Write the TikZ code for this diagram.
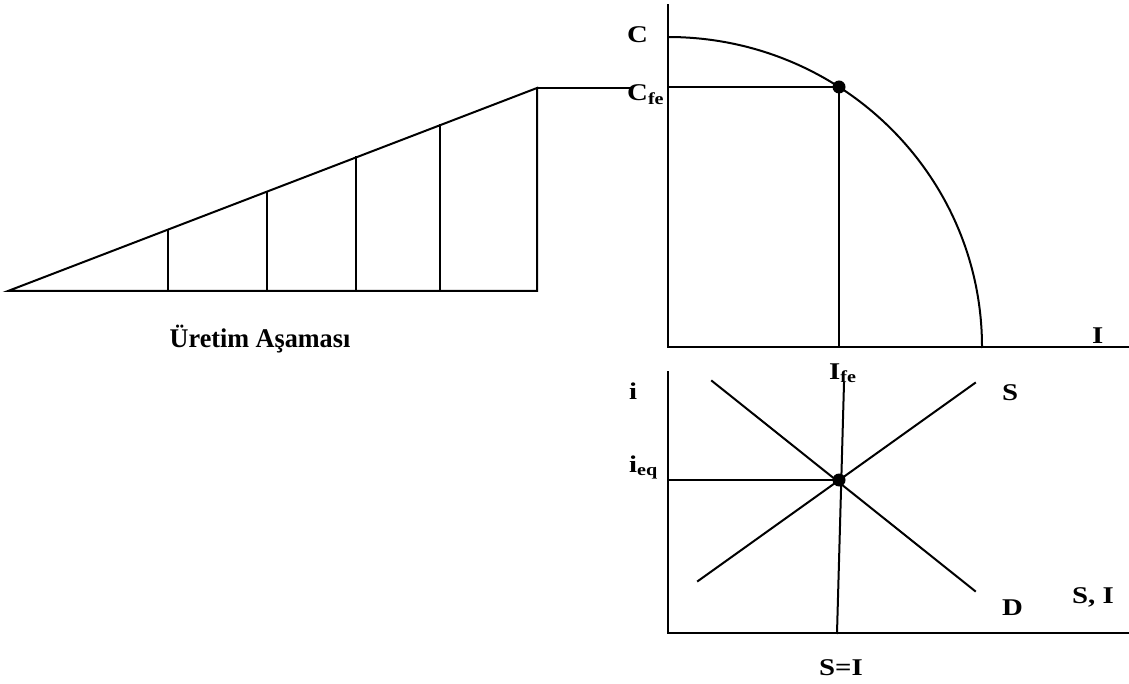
\documentclass[tikz,border=0pt]{standalone}
\usepackage{fontspec}
\setmainfont{Liberation Serif}
\newcommand{\hwide}[1]{\scalebox{1.2}[1]{#1}}
\newcommand{\hnarrow}[1]{\scalebox{0.97}[1]{#1}}
\begin{document}
\begin{tikzpicture}[x=1pt,y=-1pt,
  ln/.style={line width=2pt, line cap=rect},
  lbl/.style={inner sep=0pt, anchor=base west, font=\fontsize{24}{28}\selectfont\bfseries},
  lblc/.style={inner sep=0pt, anchor=base, font=\fontsize{27}{32}\selectfont\bfseries},
  dot/.style={circle, fill=black, inner sep=0pt, minimum size=13pt}]
\useasboundingbox (0,0) rectangle (1129,684);
% left panel
\coordinate (L0) at (8,291);
\coordinate (LT) at (537,88);
\coordinate (LB) at (537,291);
\draw[ln] (L0) -- (LB) -- (LT) -- cycle;
\foreach \x/\y in {168/229.6,267/191.6,356/157.5,440/125.2}{
  \draw[ln] (\x,291) -- (\x,\y);
}
\coordinate (Lend) at (630,88);
\draw[ln] (LT) -- (Lend);
\node[lblc] (stage) at (260,347) {\hnarrow{Üretim Aşaması}};
% top panel
\coordinate (Ctop) at (668,5);
\coordinate (O1) at (668,347);
\coordinate (Iend) at (1129,347);
\draw[ln] (Ctop) -- (O1) -- (Iend);
\draw[ln] (668,37) arc[start angle=270, end angle=360, x radius=314, y radius=310];
\node[dot] (fe) at (839,87) {};
\draw[ln] (668,87) -- (fe.center) -- (839,347);
\node[lbl] (C) at (627,43) {\hwide{C}};
\node[lbl] (Cfe) at (627,101) {\hwide{C\textsubscript{fe}}};
\node[lbl] (I) at (1092,343) {\hwide{I}};
\node[lbl] (Ife) at (829,379) {\hwide{I\textsubscript{fe}}};
% bottom panel
\coordinate (itop) at (668,372);
\coordinate (O2) at (668,633);
\coordinate (SIend) at (1129,633);
\draw[ln] (itop) -- (O2) -- (SIend);
\node[dot] (eq) at (839,480) {};
\draw[ln] (668,480) -- (eq.center);
\draw[ln] (844,383) -- (837,633);
\draw[ln] (698,581) -- (975,383);
\draw[ln] (712,381) -- (975,591);
\node[lbl] (i) at (629,399) {\hwide{i}};
\node[lbl] (ieq) at (629,472) {\hwide{i\textsubscript{eq}}};
\node[lbl] (S) at (1002,400) {\hwide{S}};
\node[lbl] (D) at (1002,615) {\hwide{D}};
\node[lbl] (SI) at (1072,603) {\hwide{S, I}};
\node[lbl] (SeqI) at (819,675) {\hwide{S=I}};
\end{tikzpicture}
\end{document}
